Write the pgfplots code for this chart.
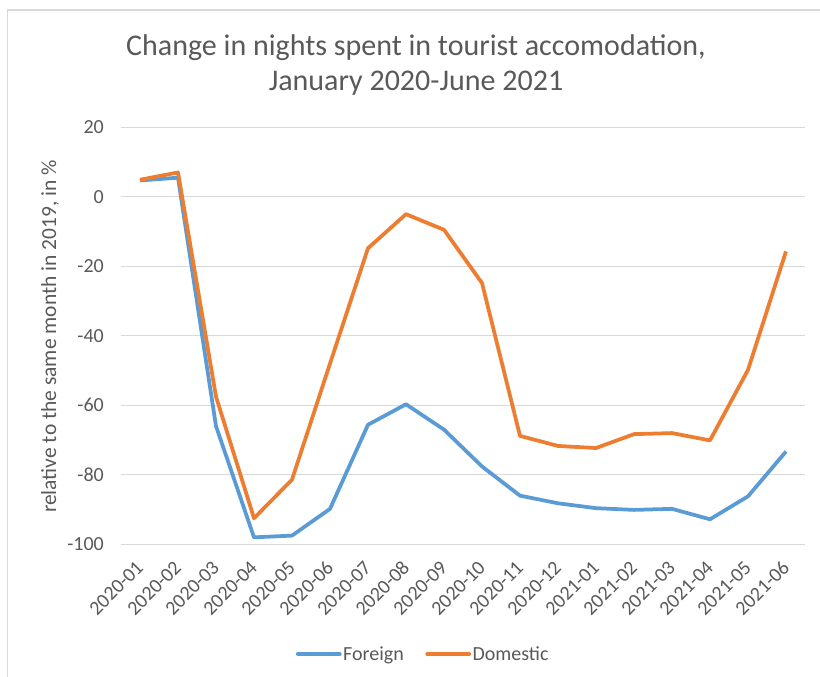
\documentclass[border=0pt]{standalone}
\usepackage{pgfplots}
\pgfplotsset{compat=1.18}
\usepackage{fontspec}
\setmainfont{Carlito}
\definecolor{fgblue}{HTML}{5B9BD5}
\definecolor{dmorange}{HTML}{ED7D31}
\definecolor{txtgray}{HTML}{595959}
\definecolor{gridgray}{HTML}{D9D9D9}
\begin{document}
\begin{tikzpicture}
\useasboundingbox (0,0) rectangle (820pt,677pt);
\draw[gridgray, line width=1.7pt] (7.5pt,-5pt) -- (7.5pt,667pt) -- (830pt,667pt);
\node[text=txtgray, font=\fontsize{30}{35}\selectfont, align=center] at (416pt,612pt) {Change in nights spent in tourist accomodation,\\January 2020-June 2021};
\node[text=txtgray, font=\fontsize{21.5}{26}\selectfont, rotate=90] at (50pt,340.5pt) {relative to the same month in 2019, in \%};
\begin{axis}[
  at={(121pt,132.7pt)}, anchor=south west,
  scale only axis, width=684pt, height=417pt,
  xmin=-0.5, xmax=17.5, ymin=-100, ymax=20,
  ytick={-100,-80,-60,-40,-20,0,20},
  xtick={0,1,2,3,4,5,6,7,8,9,10,11,12,13,14,15,16,17},
  xticklabels={2020-01,2020-02,2020-03,2020-04,2020-05,2020-06,2020-07,2020-08,2020-09,2020-10,2020-11,2020-12,2021-01,2021-02,2021-03,2021-04,2021-05,2021-06},
  axis line style={draw=none},
  major tick style={draw=none},
  ymajorgrids, major grid style={gridgray, line width=1.3pt},
  /pgf/number format/assume math mode=true,
  tick label style={font=\fontsize{20}{24}\selectfont, text=txtgray},
  yticklabel style={anchor=east, inner sep=0pt, xshift=-17pt},
  xticklabel style={rotate=45, anchor=east, inner sep=0pt},
  xticklabel shift=20pt,
  legend style={at={(axis description cs:0.4415,-0.263)}, anchor=center, draw=none, fill=none,
    legend columns=-1, font=\fontsize{20}{24}\selectfont, text=txtgray,
    /tikz/every even column/.append style={column sep=20pt}, inner sep=0pt,
    nodes={inner sep=1.5pt}},
  legend image code/.code={\draw[#1, line cap=round] (0pt,0pt) -- (42pt,0pt);},
]
\addplot[fgblue, line width=3.75pt, line join=round, mark=none] coordinates {
(0,4.7) (1,5.5) (2,-66) (3,-98) (4,-97.5) (5,-89.8) (6,-65.6) (7,-59.7) (8,-67)
(9,-77.6) (10,-86) (11,-88.2) (12,-89.6) (13,-90.1) (14,-89.8) (15,-92.8) (16,-86.2) (17,-73.3)};
\addlegendentry{Foreign}
\addplot[dmorange, line width=3.75pt, line join=round, mark=none] coordinates {
(0,4.9) (1,7) (2,-57.5) (3,-92.5) (4,-81.4) (5,-48) (6,-14.8) (7,-5) (8,-9.5)
(9,-24.8) (10,-68.8) (11,-71.7) (12,-72.3) (13,-68.3) (14,-68) (15,-70.1) (16,-49.8) (17,-15.7)};
\addlegendentry{Domestic}
\end{axis}
\end{tikzpicture}
\end{document}
